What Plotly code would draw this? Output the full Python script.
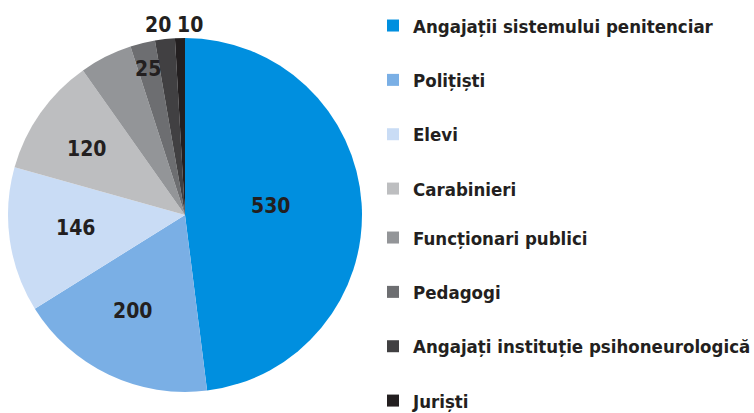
import plotly.graph_objects as go

categories = ["Angajații sistemului penitenciar", "Polițiști", "Elevi", "Carabinieri",
              "Funcționari publici", "Pedagogi", "Angajați instituție psihoneurologică", "Juriști"]
values = [530, 200, 146, 120, 53, 25, 20, 10]
colors = ["#008FDF", "#7AAFE5", "#C9DCF5", "#BDBEC0", "#939598", "#6D6E71", "#414042", "#231F20"]
# value labels shown on the chart (Funcționari publici has none), with pixel positions
label_text = ["530", "200", "146", "120", "25", "20", "10"]
label_px = [(270, 206), (132, 311), (75, 228), (86, 149), (148, 69), (158, 25), (190, 25)]

FONT = "DejaVu Sans Condensed, Roboto, sans-serif"
TXT = "#231F20"
W, H = 754, 413

fig = go.Figure()
fig.add_trace(go.Pie(
    labels=categories, values=values, textinfo="none",
    marker=dict(colors=colors, line=dict(width=0)),
    sort=False, direction="clockwise", rotation=0,
    showlegend=False, hoverinfo="label+value",
    domain=dict(x=[8/W, 362/W], y=[21/H, 375/H]),
))

for i, (c, col) in enumerate(zip(categories, colors)):
    fig.add_trace(go.Scatter(
        x=[None], y=[None], mode="markers", name=c, legendgroup=f"g{i}",
        legend="legend" if i < 4 else "legend2",
        marker=dict(symbol="square", size=12, color=col),
    ))

annots = [dict(text=t, x=px / W, y=1 - py / H, xref="paper", yref="paper",
               showarrow=False, xanchor="center", yanchor="middle",
               font=dict(family=FONT, size=21, color=TXT, weight="bold"))
          for t, (px, py) in zip(label_text, label_px)]

leg_common = dict(xanchor="left", yanchor="top", traceorder="grouped", tracegroupgap=27.3,
                  font=dict(family=FONT, size=18.5, color=TXT, weight="bold"),
                  itemwidth=30, bgcolor="rgba(0,0,0,0)")

fig.update_layout(
    width=W, height=H, margin=dict(l=0, r=0, t=0, b=0, autoexpand=False),
    paper_bgcolor="white", plot_bgcolor="white",
    xaxis=dict(visible=False), yaxis=dict(visible=False),
    annotations=annots,
    legend=dict(x=373 / W, y=1 - 7 / H, **leg_common),
    legend2=dict(x=373 / W, y=1 - 219 / H, **leg_common),
)
fig.write_html("out.html", config={"displayModeBar": False},
               post_script="document.body.style.margin='0';")
